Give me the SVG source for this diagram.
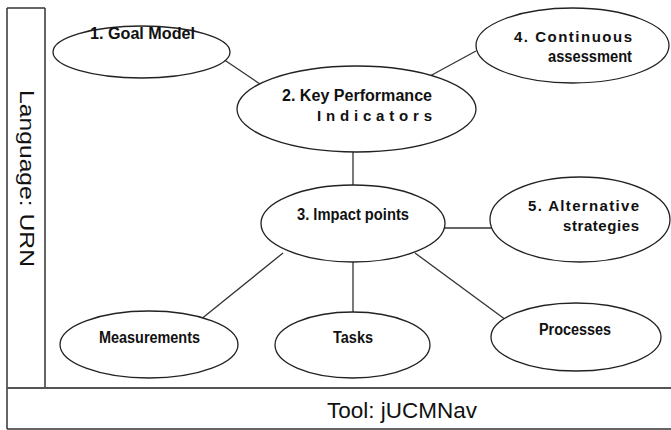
<svg xmlns="http://www.w3.org/2000/svg" width="671" height="430" viewBox="0 0 671 430">
<style>
.frame{fill:none;stroke:#333;stroke-width:1.5}
.node ellipse{fill:#fff;stroke:#222;stroke-width:1.3}
.node text{font-family:"Liberation Sans",Arial,sans-serif;font-weight:bold;font-size:16px;fill:#111}
.node text.sp{font-size:15px}
.conn line{stroke:#333;stroke-width:1.3}
.big{font-family:"Liberation Sans",Arial,sans-serif;font-size:21px;fill:#111}
</style>
<rect width="671" height="430" fill="#fff"/>
<g id="frame">
<line class="frame" x1="7" y1="8" x2="7" y2="429"/>
<line class="frame" x1="7" y1="8" x2="45" y2="8"/>
<line class="frame" x1="45" y1="8" x2="45" y2="388"/>
<line class="frame" x1="7" y1="388" x2="671" y2="388" style="stroke-width:2.2;stroke:#555"/>
<line class="frame" x1="7" y1="429" x2="671" y2="429"/>
</g>
<g id="language">
<text class="big" transform="translate(20,90) rotate(90)" textLength="177" lengthAdjust="spacingAndGlyphs">Language: URN</text>
</g>
<g id="tool">
<text class="big" x="327" y="418" style="font-size:22px" textLength="150" lengthAdjust="spacingAndGlyphs">Tool: jUCMNav</text>
</g>
<g class="conn" id="connectors">
<line x1="223" y1="59" x2="260" y2="84"/>
<line x1="430" y1="76" x2="476" y2="51"/>
<line x1="353" y1="152" x2="353" y2="185"/>
<line x1="445" y1="228" x2="492" y2="228"/>
<line x1="283" y1="253" x2="200" y2="320"/>
<line x1="353" y1="262" x2="353" y2="312"/>
<line x1="415" y1="253" x2="506" y2="320"/>
</g>
<g class="node" id="goal">
<ellipse cx="141.5" cy="52" rx="88.5" ry="26"/>
<text x="90" y="39" textLength="105" lengthAdjust="spacingAndGlyphs">1. Goal Model</text>
</g>
<g class="node" id="kpi">
<ellipse cx="356.5" cy="109" rx="119.5" ry="43"/>
<text x="282" y="101" textLength="150" lengthAdjust="spacingAndGlyphs">2. Key Performance</text>
<text class="sp" x="317" y="121" textLength="115" lengthAdjust="spacing">Indicators</text>
</g>
<g class="node" id="continuous">
<ellipse cx="572.5" cy="45.5" rx="96.5" ry="37.5"/>
<text class="sp" x="514" y="42" textLength="118" lengthAdjust="spacing">4. Continuous</text>
<text x="548" y="62" textLength="84" lengthAdjust="spacingAndGlyphs">assessment</text>
</g>
<g class="node" id="impact">
<ellipse cx="353" cy="223.5" rx="92" ry="38.5"/>
<text x="297" y="220" textLength="112" lengthAdjust="spacingAndGlyphs">3. Impact points</text>
</g>
<g class="node" id="alternative">
<ellipse cx="580" cy="219.5" rx="90" ry="42.5"/>
<text class="sp" x="528" y="211" textLength="111" lengthAdjust="spacing">5. Alternative</text>
<text class="sp" x="563" y="231" textLength="76" lengthAdjust="spacing">strategies</text>
</g>
<g class="node" id="measurements">
<ellipse cx="149" cy="344.5" rx="89" ry="33.5"/>
<text x="99" y="343" textLength="101" lengthAdjust="spacingAndGlyphs">Measurements</text>
</g>
<g class="node" id="tasks">
<ellipse cx="352.5" cy="345" rx="77.5" ry="33"/>
<text x="333" y="343" textLength="40" lengthAdjust="spacingAndGlyphs">Tasks</text>
</g>
<g class="node" id="processes">
<ellipse cx="576" cy="337" rx="85" ry="34"/>
<text x="539" y="335" textLength="72" lengthAdjust="spacingAndGlyphs">Processes</text>
</g>
</svg>
